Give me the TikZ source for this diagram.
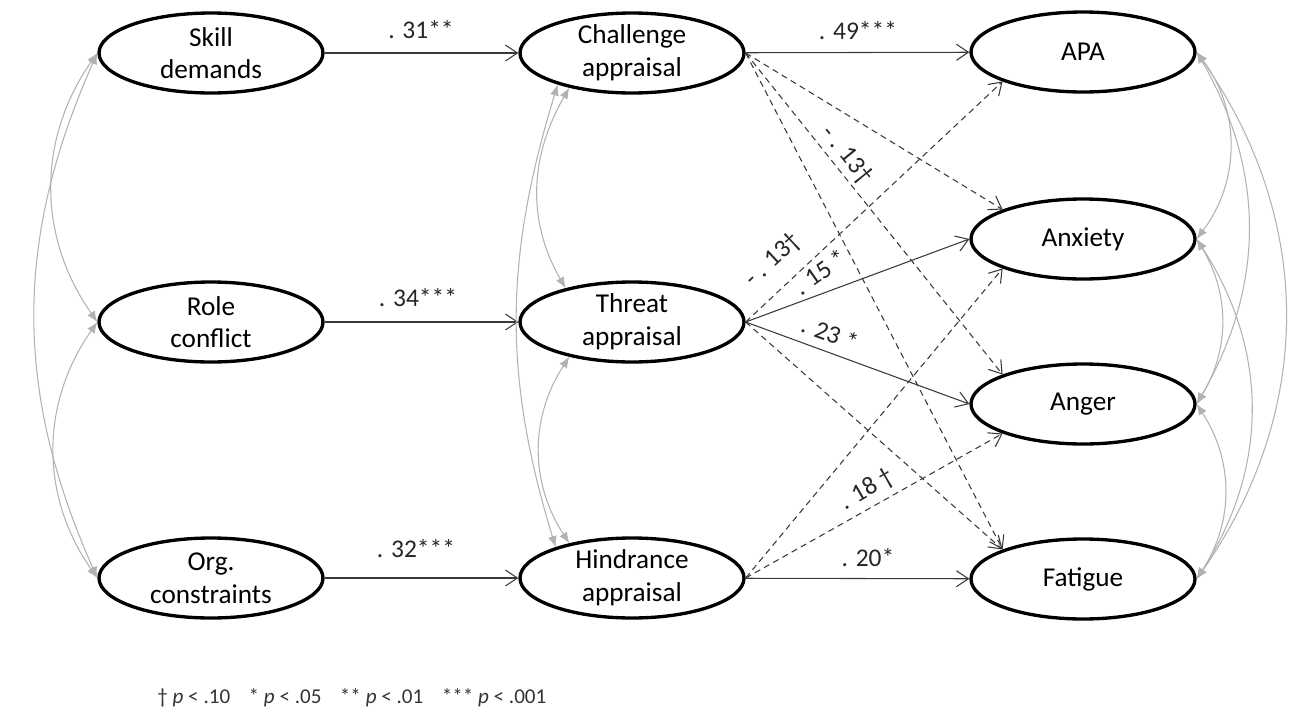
\documentclass[tikz,border=0pt]{standalone}
\usepackage{fontspec}
\setmainfont{Carlito}
\usetikzlibrary{arrows.meta,shapes.geometric}

\begin{document}
\begin{tikzpicture}[x=0.2mm,y=-0.2mm]
\tikzstyle{latent}=[draw,ellipse,line width=1.9pt,minimum width=44.8mm,minimum height=16mm,inner sep=0pt,align=center,font=\fontsize{15.5}{18.6}\selectfont]
\tikzstyle{effect}=[draw=black!78,line width=0.6pt,-{Straight Barb[length=2.4mm,width=3.2mm]}]
\tikzstyle{strong}=[effect]
\tikzstyle{weak}=[effect,dash pattern=on 3.5pt off 2.5pt]
\tikzstyle{covar}=[draw=black!30,line width=0.6pt,{Latex[length=2.2mm,width=1.8mm]}-{Latex[length=2.2mm,width=1.8mm]}]
\tikzstyle{coef}=[font=\fontsize{14.5}{17}\selectfont,text=black!85,inner sep=1pt]
\useasboundingbox (0,0) rectangle (1290,715);
% predictors, appraisals, outcomes
\node[latent] (skill) at (211,53) {Skill\\demands};
\node[latent] (role) at (211,322) {Role\\conflict};
\node[latent] (org) at (211,578) {Org.\\constraints};
\node[latent] (chal) at (632,53) {Challenge\\appraisal};
\node[latent] (threat) at (632,322) {Threat\\appraisal};
\node[latent] (hind) at (632,578) {Hindrance\\appraisal};
\node[latent] (apa) at (1083,52) {APA};
\node[latent] (anx) at (1083,239) {Anxiety};
\node[latent] (anger) at (1083,404) {Anger};
\node[latent] (fat) at (1083,579) {Fatigue};
% significant paths
\draw[strong] (skill) -- (chal);
\draw[strong] (role) -- (threat);
\draw[strong] (org) -- (hind);
\draw[strong] (chal) -- (apa);
\draw[strong] (threat.east) -- (anx.west);
\draw[strong] (threat.east) -- (anger.west);
\draw[strong] (hind) -- (fat);
% other paths
\draw[weak] (chal.east) -- (anx.north west);
\draw[weak] (chal.east) -- (anger.north west);
\draw[weak] (chal.east) -- (fat.north west);
\draw[weak] (threat.east) -- (apa.south west);
\draw[weak] (threat.east) -- (fat.north west);
\draw[weak] (hind.east) -- (anx.south west);
\draw[weak] (hind.east) -- (anger.south west);
% covariances
\draw[covar] (skill.west) to[out=235,in=125] (role.west);
\draw[covar] (role.west) to[out=235,in=125] (org.west);
\draw[covar] (skill.west) to[out=246,in=114] (org.west);
\draw[covar] (chal.209) to[out=240,in=120] (threat.153);
\draw[covar] (threat.209) to[out=237,in=123] (hind.151);
\draw[covar] (chal.203) to[out=253,in=107] (hind.158);
\draw[covar] (apa.east) to[out=307,in=53] (anx.east);
\draw[covar] (apa.east) to[out=300,in=60] (anger.east);
\draw[covar] (apa.east) to[out=305,in=55] (fat.east);
\draw[covar] (anx.east) to[out=301,in=59] (anger.east);
\draw[covar] (anx.east) to[out=303,in=57] (fat.east);
\draw[covar] (anger.east) to[out=303,in=57] (fat.east);
% coefficients
\node[coef] (b31) at (421,30) {. 31**};
\node[coef] (b34) at (418,298) {. 34***};
\node[coef] (b32) at (416,549) {. 32***};
\node[coef] (b49) at (858,31) {. 49***};
\node[coef] (b20) at (868,558) {. 20*};
\node[coef,rotate=-51] (b13c) at (847,155) {- . 13†};
\node[coef,rotate=43] (b13t) at (773,260) {- . 13†};
\node[coef,rotate=35] (b15) at (820,272) {. 15 *};
\node[coef,rotate=-20] (b23) at (830,333) {. 23 *};
\node[coef,rotate=30] (b18) at (867,490) {. 18 †};
\node[anchor=base west,inner sep=0pt,text=black!80,font=\fontsize{12}{14}\selectfont] (note) at (157,703) {† \textit{p} < .10\hspace{0.65em} * \textit{p} < .05\hspace{0.65em} ** \textit{p} < .01\hspace{0.65em} *** \textit{p} < .001};
\end{tikzpicture}
\end{document}
